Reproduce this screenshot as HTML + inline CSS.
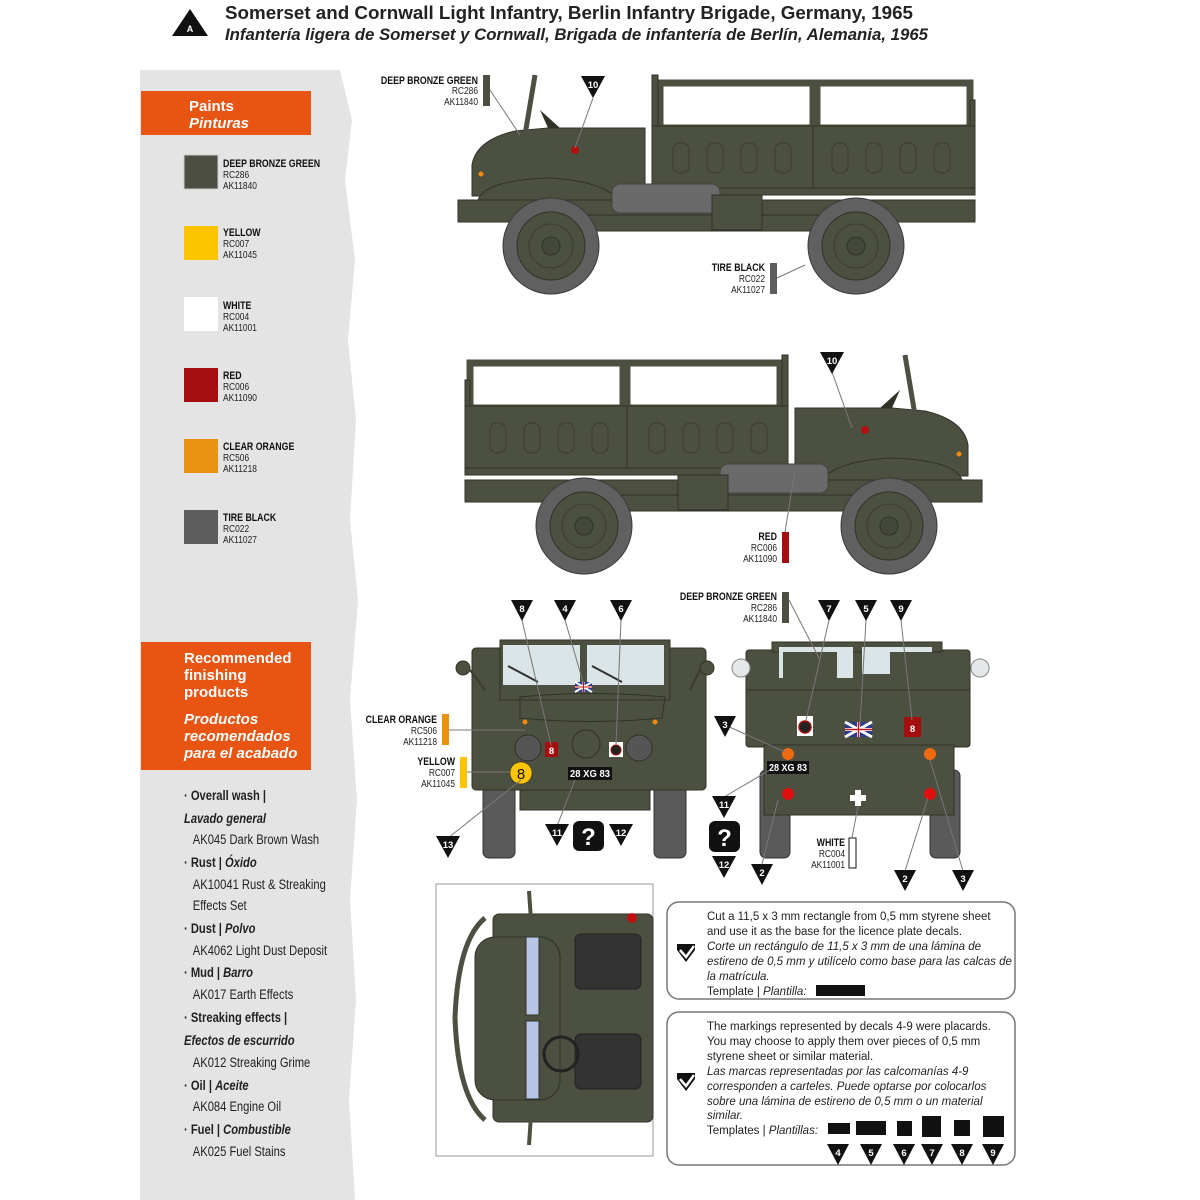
<!DOCTYPE html>
<html><head><meta charset="utf-8"><style>
html,body{margin:0;padding:0;background:#fff;}
svg{display:block}
.n{font-family:"Liberation Sans Narrow","Liberation Sans",sans-serif}
.s{font-family:"Liberation Sans",sans-serif}
.lb{font-family:"Liberation Sans",sans-serif;font-size:10.5px;fill:#222}
.lbb{font-family:"Liberation Sans",sans-serif;font-size:11px;font-weight:bold;fill:#111}
.mk{fill:#111}
.mt{font-family:"Liberation Sans",sans-serif;font-size:9.5px;font-weight:bold;fill:#fff}
.ld{stroke:#777;stroke-width:1;fill:none}
.ol{fill:#4c5040;stroke:#2f3226;stroke-width:1}
.tx{font-family:"Liberation Sans",sans-serif;font-size:11.5px;fill:#222}
</style></head><body>
<svg width="1200" height="1200" viewBox="0 0 1200 1200" xmlns="http://www.w3.org/2000/svg">
<defs>
<g id="wheel">
<circle r="48" fill="#606060" stroke="#3a3a3a"/>
<circle r="34" fill="#4c5040" stroke="#2f3226"/>
<circle r="22" fill="none" stroke="#3a3d30"/>
<circle r="9" fill="#44483a" stroke="#2f3226"/>
</g>
<g id="truck">
<rect x="660" y="83" width="153" height="45" fill="none" stroke="#4c5040" stroke-width="7"/>
<rect x="817" y="83" width="153" height="45" fill="none" stroke="#4c5040" stroke-width="7"/>
<rect x="652" y="75" width="6" height="60" class="ol"/>
<rect x="970" y="100" width="5" height="35" class="ol"/>
<rect x="652" y="126" width="323" height="64" class="ol"/>
<line x1="813" y1="126" x2="813" y2="190" stroke="#2f3226"/>
<g fill="none" stroke="#3a3d30">
<rect x="673" y="143" width="16" height="30" rx="7"/><rect x="707" y="143" width="16" height="30" rx="7"/><rect x="741" y="143" width="16" height="30" rx="7"/><rect x="775" y="143" width="16" height="30" rx="7"/>
<rect x="832" y="143" width="16" height="30" rx="7"/><rect x="866" y="143" width="16" height="30" rx="7"/><rect x="900" y="143" width="16" height="30" rx="7"/><rect x="934" y="143" width="16" height="30" rx="7"/>
</g>
<rect x="652" y="188" width="323" height="7" class="ol"/>
<path d="M472,165 Q476,140 515,131 L548,128 L645,128 L645,196 L472,196 Z" class="ol"/>
<line x1="525" y1="135" x2="535" y2="75" stroke="#4c5040" stroke-width="5"/>
<path d="M540,110 L560,128 L548,128 Z" fill="#2f3226"/>
<path d="M478,205 L478,200 Q485,180 550,178 Q612,182 620,205 Z" fill="#4c5040" stroke="#2f3226"/>
<rect x="458" y="200" width="517" height="22" class="ol"/>
<rect x="560" y="215" width="290" height="16" class="ol"/>
<rect x="612" y="184" width="108" height="29" rx="8" fill="#6a6a6a" stroke="#444"/>
<rect x="712" y="195" width="50" height="35" class="ol"/>
<use href="#wheel" x="551" y="246"/>
<use href="#wheel" x="856" y="246"/>
<circle cx="575" cy="150" r="4" fill="#b01010"/>
<circle cx="481" cy="174" r="2.5" fill="#f08a10"/>
</g>
</defs>

<path d="M140,70 L340,70 L352,120 L345,180 L355,260 L348,340 L356,420 L350,520 L358,600 L350,700 L357,800 L350,900 L356,1000 L349,1100 L355,1200 L140,1200 Z" fill="#e4e4e4"/>

<polygon points="190,9 172,36 208,36" fill="#111"/>
<text x="190" y="32" text-anchor="middle" class="s" font-size="9" font-weight="bold" fill="#fff">A</text>
<text x="225" y="19" class="s" font-size="18" font-weight="bold" fill="#222" textLength="688" lengthAdjust="spacingAndGlyphs">Somerset and Cornwall Light Infantry, Berlin Infantry Brigade, Germany, 1965</text>
<text x="225" y="40" class="s" font-size="17" font-weight="bold" font-style="italic" fill="#222" textLength="703" lengthAdjust="spacingAndGlyphs">Infantería ligera de Somerset y Cornwall, Brigada de infantería de Berlín, Alemania, 1965</text>

<rect x="141" y="91" width="170" height="44" fill="#e85412"/>
<text x="189" y="111" class="s" font-size="15" font-weight="bold" fill="#fff">Paints</text>
<text x="189" y="128" class="s" font-size="15" font-weight="bold" font-style="italic" fill="#fff">Pinturas</text>

<rect x="184" y="155" width="34" height="34" fill="#4b4e40" stroke="#ccc"/>
<rect x="184" y="226" width="34" height="34" fill="#fdc400"/>
<rect x="184" y="297" width="34" height="34" fill="#fff"/>
<rect x="184" y="368" width="34" height="34" fill="#a50e0e"/>
<rect x="184" y="439" width="34" height="34" fill="#ea9212"/>
<rect x="184" y="510" width="34" height="34" fill="#5d5d5d"/>
<g transform="translate(223,0) scale(0.8,1) translate(-223,0)">
<text x="223" y="167" class="lbb">DEEP BRONZE GREEN</text><text x="223" y="178" class="lb">RC286</text><text x="223" y="189" class="lb">AK11840</text>
<text x="223" y="236" class="lbb">YELLOW</text><text x="223" y="247" class="lb">RC007</text><text x="223" y="258" class="lb">AK11045</text>
<text x="223" y="309" class="lbb">WHITE</text><text x="223" y="320" class="lb">RC004</text><text x="223" y="331" class="lb">AK11001</text>
<text x="223" y="379" class="lbb">RED</text><text x="223" y="390" class="lb">RC006</text><text x="223" y="401" class="lb">AK11090</text>
<text x="223" y="450" class="lbb">CLEAR ORANGE</text><text x="223" y="461" class="lb">RC506</text><text x="223" y="472" class="lb">AK11218</text>
<text x="223" y="521" class="lbb">TIRE BLACK</text><text x="223" y="532" class="lb">RC022</text><text x="223" y="543" class="lb">AK11027</text>
</g>

<rect x="141" y="642" width="170" height="128" fill="#e85412"/>
<g class="s" font-size="15" font-weight="bold" fill="#fff">
<text x="184" y="663">Recommended</text><text x="184" y="680">finishing</text><text x="184" y="697">products</text>
<text x="184" y="724" font-style="italic">Productos</text><text x="184" y="741" font-style="italic">recomendados</text><text x="184" y="758" font-style="italic">para el acabado</text>
</g>
<g class="s" font-size="14" fill="#222" transform="translate(184,0) scale(0.8,1) translate(-184,0)">
<text x="184" y="800" font-weight="bold">· Overall wash |</text>
<text x="184" y="823" font-weight="bold" font-style="italic">Lavado general</text>
<text x="195" y="844">AK045 Dark Brown Wash</text>
<text x="184" y="867" font-weight="bold">· Rust | <tspan font-style="italic">Óxido</tspan></text>
<text x="195" y="889">AK10041 Rust &amp; Streaking</text>
<text x="195" y="910">Effects Set</text>
<text x="184" y="933" font-weight="bold">· Dust | <tspan font-style="italic">Polvo</tspan></text>
<text x="195" y="955">AK4062 Light Dust Deposit</text>
<text x="184" y="977" font-weight="bold">· Mud | <tspan font-style="italic">Barro</tspan></text>
<text x="195" y="999">AK017 Earth Effects</text>
<text x="184" y="1022" font-weight="bold">· Streaking effects |</text>
<text x="184" y="1045" font-weight="bold" font-style="italic">Efectos de escurrido</text>
<text x="195" y="1067">AK012 Streaking Grime</text>
<text x="184" y="1090" font-weight="bold">· Oil | <tspan font-style="italic">Aceite</tspan></text>
<text x="195" y="1111">AK084 Engine Oil</text>
<text x="184" y="1134" font-weight="bold">· Fuel | <tspan font-style="italic">Combustible</tspan></text>
<text x="195" y="1156">AK025 Fuel Stains</text>
</g>

<use href="#truck"/>
<use href="#truck" transform="translate(1440,280) scale(-1,1)"/>

<g text-anchor="end">
<g transform="translate(478,0) scale(0.8,1) translate(-478,0)"><text x="478" y="84" class="lbb">DEEP BRONZE GREEN</text><text x="478" y="94" class="lb">RC286</text><text x="478" y="105" class="lb">AK11840</text></g>
<g transform="translate(765,0) scale(0.8,1) translate(-765,0)"><text x="765" y="271" class="lbb">TIRE BLACK</text><text x="765" y="282" class="lb">RC022</text><text x="765" y="293" class="lb">AK11027</text></g>
<g transform="translate(777,0) scale(0.8,1) translate(-777,0)"><text x="777" y="540" class="lbb">RED</text><text x="777" y="551" class="lb">RC006</text><text x="777" y="562" class="lb">AK11090</text>
<text x="777" y="600" class="lbb">DEEP BRONZE GREEN</text><text x="777" y="611" class="lb">RC286</text><text x="777" y="622" class="lb">AK11840</text></g>
<g transform="translate(437,0) scale(0.8,1) translate(-437,0)"><text x="437" y="723" class="lbb">CLEAR ORANGE</text><text x="437" y="734" class="lb">RC506</text><text x="437" y="745" class="lb">AK11218</text></g>
<g transform="translate(455,0) scale(0.8,1) translate(-455,0)"><text x="455" y="765" class="lbb">YELLOW</text><text x="455" y="776" class="lb">RC007</text><text x="455" y="787" class="lb">AK11045</text></g>
<g transform="translate(845,0) scale(0.8,1) translate(-845,0)"><text x="845" y="846" class="lbb">WHITE</text><text x="845" y="857" class="lb">RC004</text><text x="845" y="868" class="lb">AK11001</text></g>
</g>
<rect x="483" y="75" width="7" height="31" fill="#4b4e40"/>
<rect x="770" y="263" width="7" height="31" fill="#5d5d5d"/>
<rect x="782" y="532" width="7" height="31" fill="#a50e0e"/>
<rect x="782" y="592" width="7" height="31" fill="#4b4e40"/>
<rect x="442" y="714" width="7" height="31" fill="#ea9212"/>
<rect x="460" y="757" width="7" height="31" fill="#fdc400"/>
<rect x="849" y="838" width="7" height="30" fill="#fff" stroke="#111"/>

<!-- front view -->
<g>
<rect x="483" y="780" width="32" height="78" rx="6" fill="#5a5a5a" stroke="#333"/>
<rect x="654" y="780" width="32" height="78" rx="6" fill="#5a5a5a" stroke="#333"/>
<rect x="472" y="648" width="234" height="142" rx="4" class="ol"/>
<rect x="500" y="640" width="170" height="60" class="ol"/>
<rect x="503" y="645" width="77" height="40" fill="#dbe4e6"/>
<rect x="587" y="645" width="77" height="40" fill="#dbe4e6"/>
<line x1="508" y1="666" x2="538" y2="682" stroke="#333" stroke-width="2"/>
<line x1="592" y1="666" x2="622" y2="682" stroke="#333" stroke-width="2"/>
<path d="M520,697 Q590,690 665,697 L662,718 Q590,725 520,718 Z" fill="none" stroke="#2f3226"/>
<rect x="520" y="790" width="130" height="20" class="ol"/>
<circle cx="528" cy="748" r="13" fill="#555" stroke="#2f3226"/>
<circle cx="639" cy="748" r="13" fill="#555" stroke="#2f3226"/>
<circle cx="586" cy="744" r="14" fill="none" stroke="#2f3226"/>
<rect x="545" y="742" width="13" height="15" fill="#a50e0e"/><text x="551.5" y="754" text-anchor="middle" class="mt">8</text>
<rect x="609" y="742" width="14" height="15" fill="#fff"/><circle cx="616" cy="750" r="5" fill="#222" stroke="#a50e0e"/>
<rect x="575" y="682" width="17" height="10" fill="#2a3b8f"/><path d="M575,682 L592,692 M592,682 L575,692 M583.5,682 V692 M575,687 H592" stroke="#fff" stroke-width="2"/><path d="M583.5,682 V692 M575,687 H592" stroke="#c0141c" stroke-width="1"/>
<circle cx="521" cy="773" r="11" fill="#fdc400" stroke="#222" stroke-width="0.5"/><text x="521" y="779" text-anchor="middle" class="s" font-size="15" fill="#111">8</text>
<rect x="568" y="767" width="44" height="13" fill="#111"/><text x="590" y="777" text-anchor="middle" class="s" font-size="10" font-weight="bold" fill="#fff" textLength="40" lengthAdjust="spacingAndGlyphs">28 XG 83</text>
<circle cx="463" cy="668" r="7" class="ol"/><circle cx="707" cy="668" r="7" class="ol"/>
<line x1="470" y1="670" x2="485" y2="690" stroke="#3a3d30" stroke-width="2"/><line x1="700" y1="670" x2="690" y2="690" stroke="#3a3d30" stroke-width="2"/>
<circle cx="525" cy="722" r="2.5" fill="#f08a10"/><circle cx="655" cy="722" r="2.5" fill="#f08a10"/>
</g>

<!-- rear view -->
<g>
<rect x="760" y="770" width="30" height="88" rx="6" fill="#5a5a5a" stroke="#333"/>
<rect x="930" y="770" width="30" height="88" rx="6" fill="#5a5a5a" stroke="#333"/>
<rect x="746" y="650" width="224" height="97" rx="3" class="ol"/>
<rect x="772" y="642" width="170" height="10" class="ol"/>
<rect x="779" y="647" width="74" height="31" fill="#dbe4e6"/><rect x="862" y="647" width="70" height="27" fill="#dbe4e6"/>
<rect x="783" y="652" width="54" height="26" fill="#4c5040"/><rect x="890" y="652" width="42" height="22" fill="#4c5040"/>
<line x1="746" y1="690" x2="970" y2="690" stroke="#2f3226"/>
<rect x="764" y="745" width="190" height="70" class="ol"/>
<rect x="797" y="716" width="16" height="20" fill="#fff"/><circle cx="805" cy="727" r="6" fill="#222" stroke="#a50e0e" stroke-width="1.5"/>
<rect x="845" y="722" width="27" height="15" fill="#2a3b8f"/><path d="M845,722 L872,737 M872,722 L845,737 M858.5,722 V737 M845,729.5 H872" stroke="#fff" stroke-width="3"/><path d="M858.5,722 V737 M845,729.5 H872" stroke="#c0141c" stroke-width="1.5"/>
<rect x="904" y="717" width="17" height="20" fill="#a50e0e"/><text x="912.5" y="732" text-anchor="middle" class="mt" font-size="13">8</text>
<circle cx="788" cy="754" r="6" fill="#ef6a10"/><circle cx="930" cy="754" r="6" fill="#ef6a10"/>
<circle cx="788" cy="794" r="6" fill="#e01010"/><circle cx="930" cy="794" r="6" fill="#e01010"/>
<rect x="767" y="761" width="42" height="13" fill="#111"/><text x="788" y="771" text-anchor="middle" class="s" font-size="10" font-weight="bold" fill="#fff" textLength="38" lengthAdjust="spacingAndGlyphs">28 XG 83</text>
<path d="M855,790 h6 v5 h5 v6 h-5 v5 h-6 v-5 h-5 v-6 h5 z" fill="#fff"/>
<circle cx="741" cy="668" r="9" fill="#e4e8e8" stroke="#888"/><circle cx="980" cy="668" r="9" fill="#e4e8e8" stroke="#888"/>
</g>

<g class="ld">
<line x1="490" y1="90" x2="520" y2="135"/>
<line x1="593" y1="98" x2="575" y2="148"/>
<line x1="777" y1="278" x2="805" y2="265"/>
<line x1="832" y1="372" x2="852" y2="428"/>
<line x1="785" y1="532" x2="795" y2="470"/>
<line x1="789" y1="600" x2="820" y2="660"/>
<line x1="449" y1="730" x2="525" y2="730"/>
<line x1="467" y1="772" x2="510" y2="772"/>
<line x1="522" y1="620" x2="551" y2="745"/>
<line x1="565" y1="620" x2="583" y2="682"/>
<line x1="621" y1="620" x2="616" y2="745"/>
<line x1="448" y1="838" x2="521" y2="780"/>
<line x1="557" y1="826" x2="575" y2="780"/>
<line x1="829" y1="620" x2="806" y2="720"/>
<line x1="866" y1="620" x2="860" y2="725"/>
<line x1="901" y1="620" x2="912" y2="720"/>
<line x1="725" y1="725" x2="785" y2="752"/>
<line x1="724" y1="797" x2="770" y2="770"/>
<line x1="762" y1="864" x2="778" y2="800"/>
<line x1="905" y1="871" x2="928" y2="798"/>
<line x1="963" y1="871" x2="930" y2="760"/>
<line x1="852" y1="838" x2="858" y2="806"/>
</g>

<g>
<polygon class="mk" points="581,76 605,76 593,98"/><text x="593" y="88" text-anchor="middle" class="mt">10</text>
<polygon class="mk" points="820,352 844,352 832,374"/><text x="832" y="364" text-anchor="middle" class="mt">10</text>
<polygon class="mk" points="511,600 533,600 522,621"/><text x="522" y="612" text-anchor="middle" class="mt">8</text>
<polygon class="mk" points="554,600 576,600 565,621"/><text x="565" y="612" text-anchor="middle" class="mt">4</text>
<polygon class="mk" points="610,600 632,600 621,621"/><text x="621" y="612" text-anchor="middle" class="mt">6</text>
<polygon class="mk" points="818,600 840,600 829,621"/><text x="829" y="612" text-anchor="middle" class="mt">7</text>
<polygon class="mk" points="855,600 877,600 866,621"/><text x="866" y="612" text-anchor="middle" class="mt">5</text>
<polygon class="mk" points="890,600 912,600 901,621"/><text x="901" y="612" text-anchor="middle" class="mt">9</text>
<polygon class="mk" points="714,716 736,716 725,737"/><text x="725" y="728" text-anchor="middle" class="mt">3</text>
<polygon class="mk" points="436,836 460,836 448,858"/><text x="448" y="848" text-anchor="middle" class="mt">13</text>
<polygon class="mk" points="545,824 569,824 557,846"/><text x="557" y="836" text-anchor="middle" class="mt">11</text>
<polygon class="mk" points="609,824 633,824 621,846"/><text x="621" y="836" text-anchor="middle" class="mt">12</text>
<rect x="573" y="821" width="31" height="30" rx="6" fill="#111"/><text x="588.5" y="845" text-anchor="middle" class="s" font-size="24" font-weight="bold" fill="#fff">?</text>
<polygon class="mk" points="712,796 736,796 724,818"/><text x="724" y="808" text-anchor="middle" class="mt">11</text>
<rect x="709" y="821" width="31" height="31" rx="6" fill="#111"/><text x="724.5" y="846" text-anchor="middle" class="s" font-size="24" font-weight="bold" fill="#fff">?</text>
<polygon class="mk" points="712,856 736,856 724,878"/><text x="724" y="868" text-anchor="middle" class="mt">12</text>
<polygon class="mk" points="751,864 773,864 762,885"/><text x="762" y="876" text-anchor="middle" class="mt">2</text>
<polygon class="mk" points="894,870 916,870 905,891"/><text x="905" y="882" text-anchor="middle" class="mt">2</text>
<polygon class="mk" points="952,870 974,870 963,891"/><text x="963" y="882" text-anchor="middle" class="mt">3</text>
</g>

<rect x="436" y="884" width="217" height="272" fill="#fff" stroke="#999"/>
<g>
<rect x="493" y="914" width="160" height="208" rx="6" class="ol"/>
<rect x="475" y="937" width="85" height="163" rx="20" class="ol"/>
<path d="M485,918 Q458,940 455,1018 Q458,1097 485,1120" fill="none" stroke="#4c5040" stroke-width="5"/>
<rect x="526" y="937" width="13" height="78" fill="#b8c6e6" stroke="#2f3226"/>
<rect x="526" y="1021" width="13" height="78" fill="#b8c6e6" stroke="#2f3226"/>
<rect x="575" y="934" width="66" height="55" rx="6" fill="#333" stroke="#222"/>
<rect x="575" y="1034" width="66" height="55" rx="6" fill="#333" stroke="#222"/>
<circle cx="561" cy="1054" r="17" fill="none" stroke="#222" stroke-width="3"/>
<path d="M529,891 L531,920 M529,1145 L531,1115" stroke="#4c5040" stroke-width="4"/>
<circle cx="632" cy="918" r="5" fill="#c01010"/>
</g>

<rect x="667" y="902" width="348" height="97" rx="12" fill="#fff" stroke="#777" stroke-width="1.5"/>
<g class="tx">
<text x="707" y="920">Cut a 11,5 x 3 mm rectangle from 0,5 mm styrene sheet</text>
<text x="707" y="935">and use it as the base for the licence plate decals.</text>
<text x="707" y="950" font-style="italic">Corte un rectángulo de 11,5 x 3 mm de una lámina de</text>
<text x="707" y="965" font-style="italic">estireno de 0,5 mm y utilícelo como base para las calcas de</text>
<text x="707" y="980" font-style="italic">la matrícula.</text>
<text x="707" y="995">Template | <tspan font-style="italic">Plantilla:</tspan></text>
</g>
<rect x="816" y="985" width="49" height="11" fill="#111"/>
<path d="M677,944 L695,944 L695,950 L686,962 L677,950 Z" fill="#111"/><path d="M680,950 L686,957 L694,946" stroke="#fff" stroke-width="2.5" fill="none"/>

<rect x="667" y="1012" width="348" height="153" rx="12" fill="#fff" stroke="#777" stroke-width="1.5"/>
<g class="tx">
<text x="707" y="1030">The markings represented by decals 4-9 were placards.</text>
<text x="707" y="1045">You may choose to apply them over pieces of 0,5 mm</text>
<text x="707" y="1060">styrene sheet or similar material.</text>
<text x="707" y="1075" font-style="italic">Las marcas representadas por las calcomanías 4-9</text>
<text x="707" y="1090" font-style="italic">corresponden a carteles. Puede optarse por colocarlos</text>
<text x="707" y="1105" font-style="italic">sobre una lámina de estireno de 0,5 mm o un material</text>
<text x="707" y="1119" font-style="italic">similar.</text>
<text x="707" y="1134">Templates | <tspan font-style="italic">Plantillas:</tspan></text>
</g>
<path d="M677,1073 L695,1073 L695,1079 L686,1091 L677,1079 Z" fill="#111"/><path d="M680,1079 L686,1086 L694,1075" stroke="#fff" stroke-width="2.5" fill="none"/>
<g fill="#111">
<rect x="828" y="1123" width="22" height="11"/><rect x="856" y="1121" width="30" height="14"/><rect x="897" y="1121" width="15" height="15"/>
<rect x="922" y="1116" width="19" height="21"/><rect x="954" y="1120" width="16" height="16"/><rect x="983" y="1116" width="21" height="21"/>
</g>
<g>
<polygon class="mk" points="827,1144 849,1144 838,1165"/><text x="838" y="1156" text-anchor="middle" class="mt">4</text>
<polygon class="mk" points="860,1144 882,1144 871,1165"/><text x="871" y="1156" text-anchor="middle" class="mt">5</text>
<polygon class="mk" points="893,1144 915,1144 904,1165"/><text x="904" y="1156" text-anchor="middle" class="mt">6</text>
<polygon class="mk" points="921,1144 943,1144 932,1165"/><text x="932" y="1156" text-anchor="middle" class="mt">7</text>
<polygon class="mk" points="951,1144 973,1144 962,1165"/><text x="962" y="1156" text-anchor="middle" class="mt">8</text>
<polygon class="mk" points="982,1144 1004,1144 993,1165"/><text x="993" y="1156" text-anchor="middle" class="mt">9</text>
</g>
</svg>
</body></html>
